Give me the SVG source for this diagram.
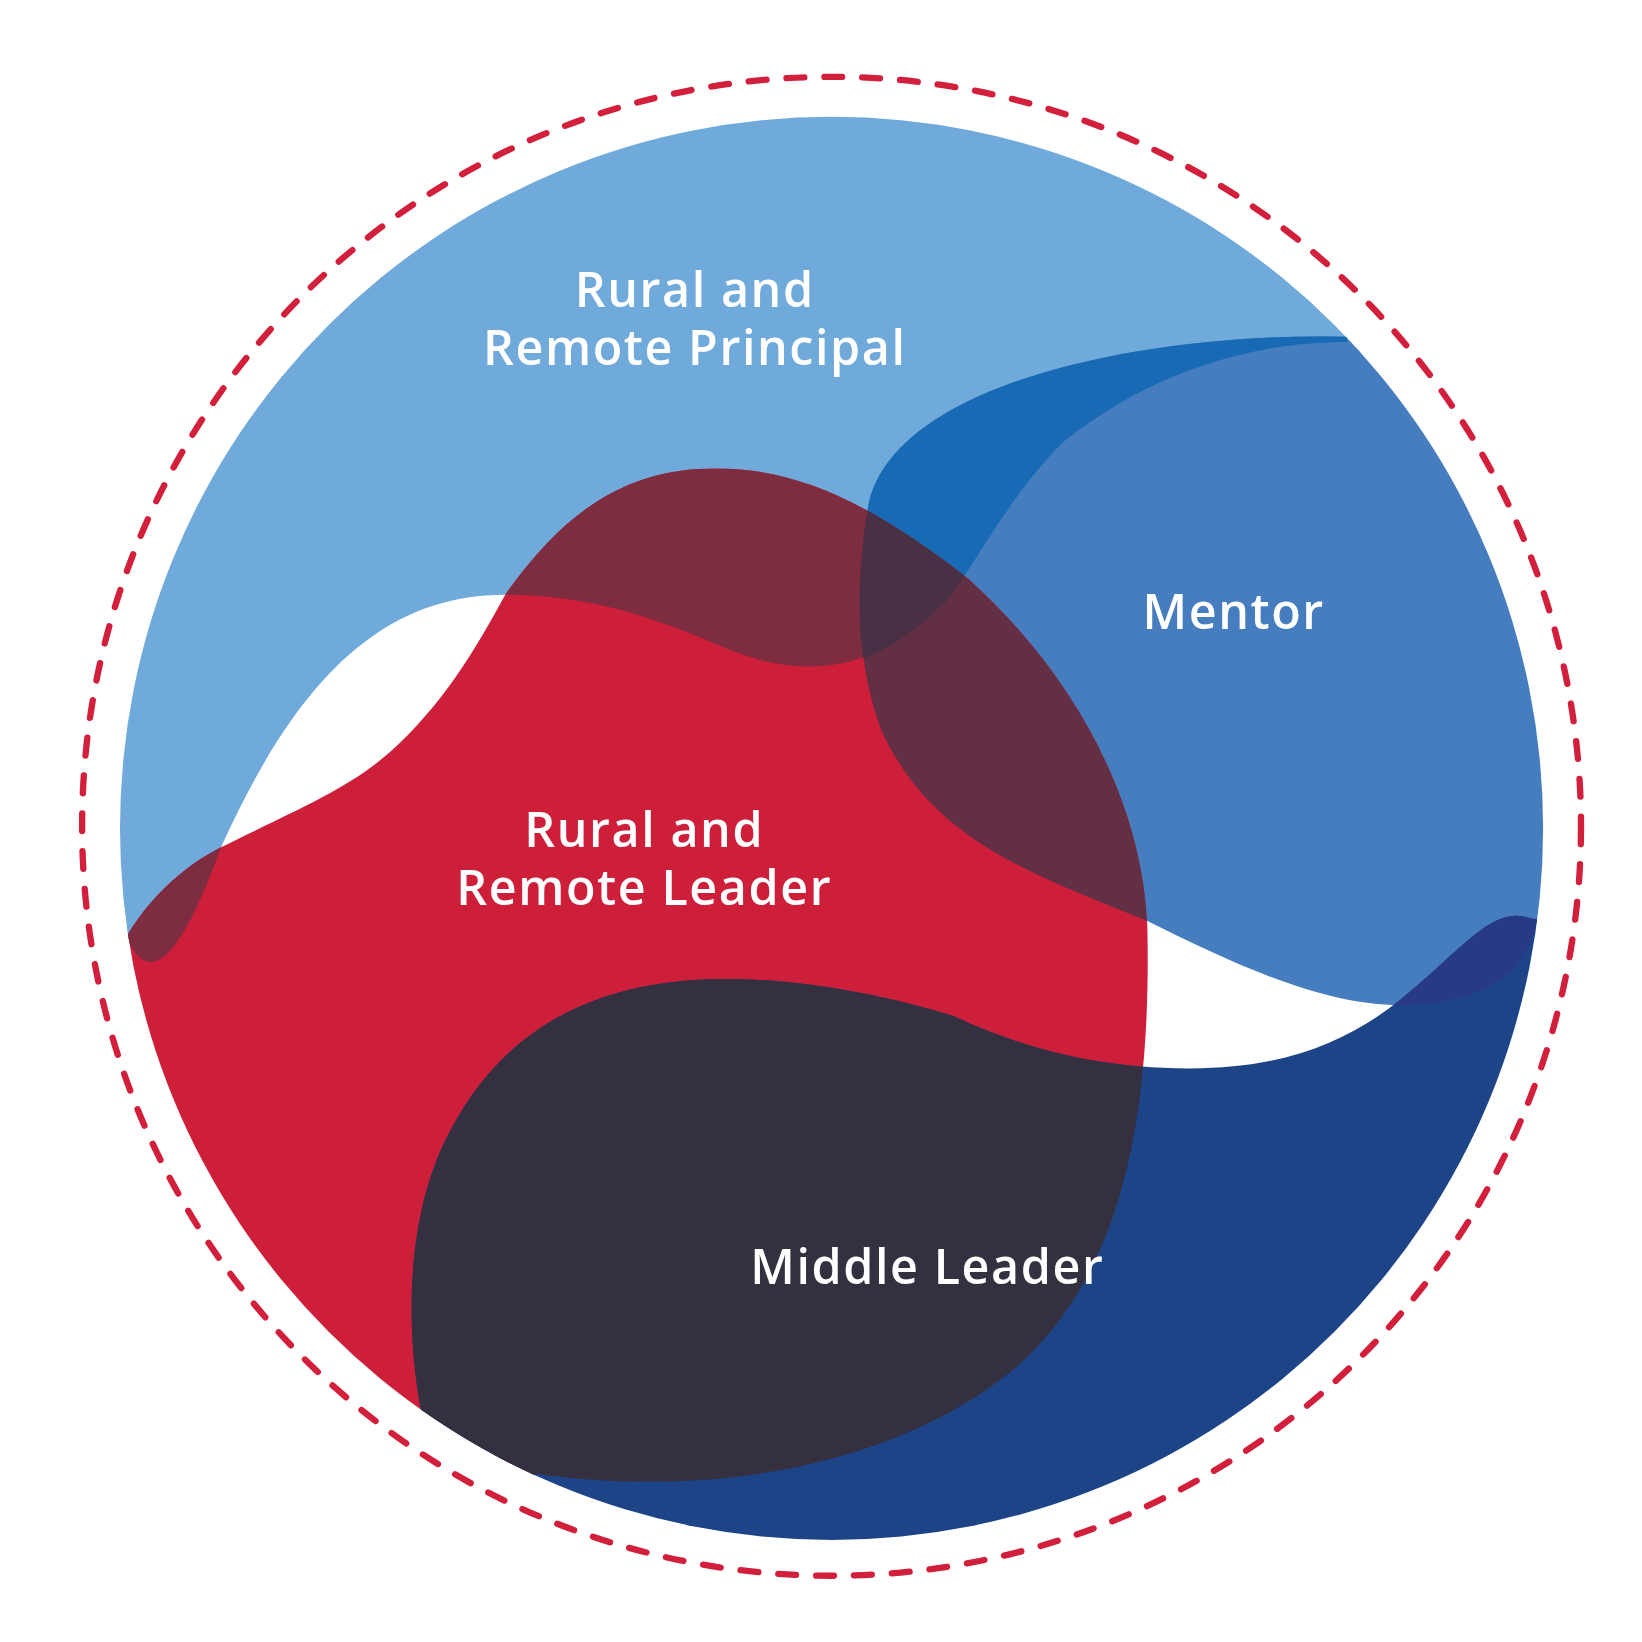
<svg xmlns="http://www.w3.org/2000/svg" width="1642" height="1642" viewBox="0 0 1642 1642">
<style>
text{font-family:"Open Sans","Liberation Sans",sans-serif;font-weight:600;font-size:46px;letter-spacing:1.5px;fill:#fff;text-anchor:middle}
</style>
<defs>
<clipPath id="cc"><circle cx="790" cy="787" r="676"/></clipPath>
<path id="pLB" d="M60,890 L120,890 C150,960 190,860 210,805 C280,650 360,565 480,565 C580,565 650,600 700,620 C740,635 790,640 830,620 C920,580 1000,450 1300,320 L1500,320 L1500,60 L60,60 Z"/>
<path id="pM" d="M1280,320 C1100,315 850,360 825,480 C810,560 815,640 840,700 C890,800 980,830 1090,875 C1180,920 1260,955 1330,955 C1400,955 1450,930 1460,875 L1500,875 L1500,300 Z"/>
<path id="pC" d="M1280,320 C1100,315 850,360 825,480 C815,540 815,590 820,625 C840,620 870,600 900,570 C930,530 960,470 1010,420 C1060,380 1150,325 1280,325 Z"/>
<path id="pR" d="M60,1500 L60,860 L120,890 C150,840 190,815 210,805 C280,770 330,750 370,715 C420,670 450,620 480,565 C540,480 600,445 680,445 C760,445 830,480 920,550 C1020,640 1085,760 1090,880 C1095,1100 1050,1220 970,1295 C860,1390 680,1425 510,1400 L300,1500 Z"/>
<path id="pMid" d="M400,1340 C385,1260 385,1150 430,1070 C490,960 590,930 690,930 C760,930 840,945 905,965 C960,990 1030,1015 1130,1015 C1220,1015 1280,990 1330,950 C1380,910 1410,870 1440,870 C1450,870 1460,875 1500,880 L1500,1500 L400,1500 Z"/>
<clipPath id="cM"><use href="#pM"/></clipPath>
<clipPath id="cR"><use href="#pR"/></clipPath>
</defs>
<g transform="scale(1.0526)">
<g clip-path="url(#cc)">
<g id="principal"><use href="#pLB" fill="#6FAADB"/></g>
<g id="mentor"><use href="#pM" fill="#457DBF"/><use href="#pC" fill="#176AB3"/></g>
<g id="leader"><use href="#pR" fill="#CD1F3A"/>
<g clip-path="url(#cR)"><use href="#pLB" fill="#7E2C40"/><use href="#pM" fill="#632F45"/><use href="#pC" fill="#4A3045"/></g></g>
<g id="middle"><use href="#pMid" fill="#1E4488"/>
<g clip-path="url(#cR)"><use href="#pMid" fill="#343040"/></g>
<g clip-path="url(#cM)"><use href="#pMid" fill="#293A85"/></g></g>
</g>
<g id="ring"><circle cx="790" cy="785" r="712" fill="none" stroke="#D21F3C" stroke-width="6" stroke-dasharray="17 19" stroke-linecap="round"/></g>
<g id="labels">
<text x="660" y="292">Rural and</text><text x="660" y="347">Remote Principal</text>
<text x="1172" y="598">Mentor</text>
<text x="612" y="805">Rural and</text><text x="612" y="860">Remote Leader</text>
<text x="881" y="1220">Middle Leader</text>
</g>
</g>
</svg>
